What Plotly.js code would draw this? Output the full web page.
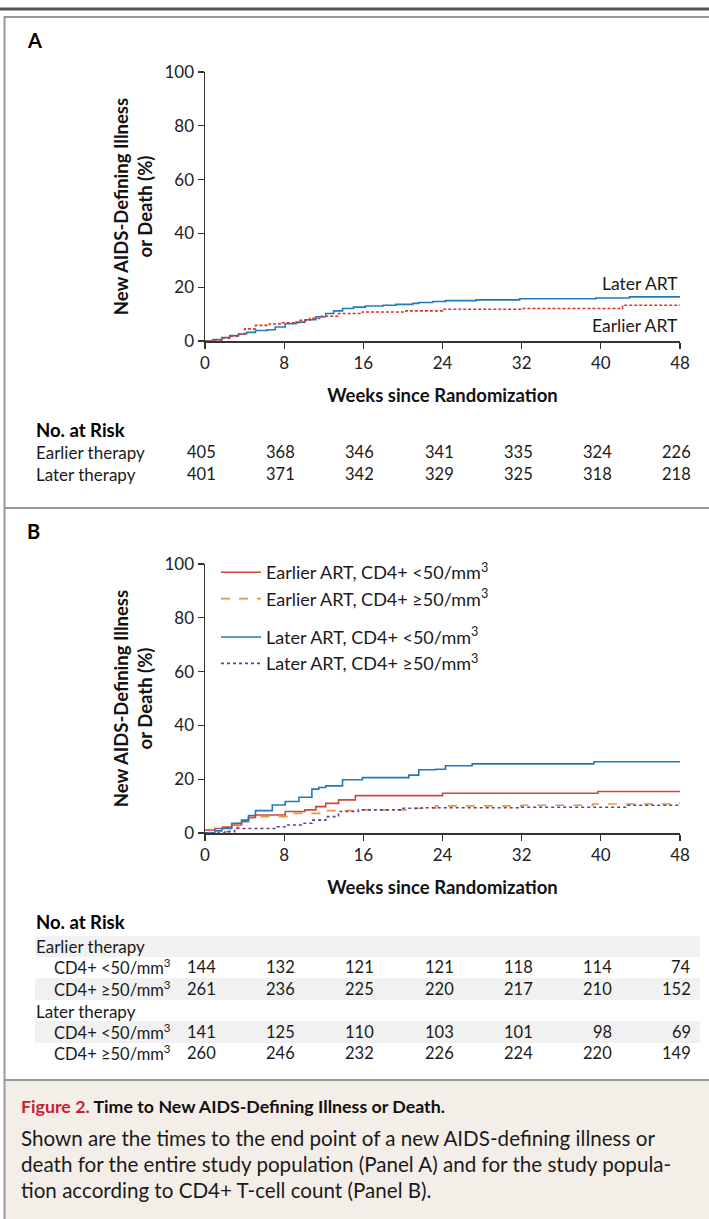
<!DOCTYPE html>
<html><head><meta charset="utf-8">
<script src="https://cdn.plot.ly/plotly-3.0.1.min.js"></script>
<style>html,body{margin:0;padding:0;background:#fff;}#chart{width:709px;height:1219px;}</style>
</head><body><div id="chart"></div>
<script>
// ---------- data ----------
const weekTicks = [0, 8, 16, 24, 32, 40, 48];

// Panel A
const aLaterWeeks = [0,0.8,1.7,2.5,3.4,4.2,5.1,6.3,7.1,8.1,9.2,10.1,11.2,12.2,13,13.9,15,16.2,18,19.3,21,21.6,23,24.3,27.4,31.8,39.5,42.9,48];
const aLaterPct   = [0,0.5,1.3,2,2.6,3.2,3.9,4.2,5.2,6.4,7,7.9,9,10.2,11.2,12.1,12.6,13,13.3,13.6,14,14.3,14.7,15,15.3,15.7,16,16.4,16.5];
const aEarlierWeeks = [0,0.8,1.7,2.6,3.4,4,5.1,6.5,7.8,9.5,10.6,11.8,13.5,15.9,20.3,24,32,42.2,48];
const aEarlierPct   = [0,0.4,1,1.8,2.6,4.5,5.8,6.3,6.8,7.7,8.4,9.2,10.2,10.8,11.2,11.8,12.1,13.3,13.3];

// Panel B
const bEarlyLowWeeks = [0,1,1.8,2.7,3.7,4.4,5.1,8.1,10.1,11.2,12.2,13.5,15.2,24,39.7,48];
const bEarlyLowPct   = [1.1,1.7,2.2,3,4.2,5.8,6.7,8,8.6,9.8,11,12.3,13.9,14.8,15.4,15.4];
const bEarlyHighWeeks = [0,2,2.7,3.4,4.4,5.1,8.4,11.8,15.9,21.3,23.3,32,39.2,48];
const bEarlyHighPct   = [0,0.5,2,3.6,5.5,6.1,7.3,8.3,8.6,9.2,10.1,10.3,10.8,11.4];
const bLateLowWeeks = [0,1,1.7,2.7,3.7,4.4,5.1,6.8,8.1,9.5,10.8,11.5,12.2,13.9,15.9,20.6,21.6,23.3,24.3,27,39.3,48];
const bLateLowPct   = [0,0.8,1.7,3.6,4.8,6.5,8.3,10.4,11.7,13.3,16.3,16.9,17.5,19.8,20.6,21.5,23.5,23.7,25,25.7,26.5,26.5];
const bLateHighWeeks = [0,2,3,7.3,8.1,9.8,10.8,12.2,13.5,15.5,19.9,21.9,32,42.6,48];
const bLateHighPct   = [0,0.5,1.7,2.3,3,3.6,4.8,6.1,8,8.6,9.2,9.4,9.6,10.3,10.3];

// Numbers at risk
const aRiskRows = ["Earlier therapy", "Later therapy"];
const aRiskEarlier = [405, 368, 346, 341, 335, 324, 226];
const aRiskLater   = [401, 371, 342, 329, 325, 318, 218];

const bGroupLabels = ["Earlier therapy", "Later therapy"];
const bRowLabels = ["CD4+ <50/mm<sup>3</sup>", "CD4+ ≥50/mm<sup>3</sup>"];
const bRiskEarlyLow  = [144, 132, 121, 121, 118, 114, 74];
const bRiskEarlyHigh = [261, 236, 225, 220, 217, 210, 152];
const bRiskLateLow   = [141, 125, 110, 103, 101, 98, 69];
const bRiskLateHigh  = [260, 246, 232, 226, 224, 220, 149];

const legendNames = ["Earlier ART, CD4+ <50/mm<sup>3</sup>", "Earlier ART, CD4+ ≥50/mm<sup>3</sup>",
                     "Later ART, CD4+ <50/mm<sup>3</sup>", "Later ART, CD4+ ≥50/mm<sup>3</sup>"];

// ---------- layout helpers ----------
const W = 709, H = 1219;
const FONT = "Lato, 'Open Sans', sans-serif";
const px = x => x / W;
const py = y => 1 - y / H;
const BLUE = "#1f7ac0", RED = "#d0463a", ORANGE = "#e8963c", PURPLE = "#5b3f9c";

function step(x, y, color, dash, name, xa, ya, group, show) {
  return {x: x, y: y, type: "scatter", mode: "lines", line: {shape: "hv", color: color, width: 1.6, dash: dash},
          name: name, xaxis: xa, yaxis: ya, legendgroup: group, showlegend: show, cliponaxis: false, hoverinfo: "skip"};
}

const traces = [
  step(aLaterWeeks, aLaterPct, BLUE, "solid", "Later ART", "x", "y", "a", false),
  step(aEarlierWeeks, aEarlierPct, "#d8352a", "3px,2px", "Earlier ART", "x", "y", "a", false),
  step(bEarlyLowWeeks, bEarlyLowPct, RED, "solid", legendNames[0], "x2", "y2", "e", true),
  step(bEarlyHighWeeks, bEarlyHighPct, ORANGE, "dash", legendNames[1], "x2", "y2", "e", true),
  step(bLateLowWeeks, bLateLowPct, BLUE, "solid", legendNames[2], "x2", "y2", "l", true),
  step(bLateHighWeeks, bLateHighPct, PURPLE, "dot", legendNames[3], "x2", "y2", "l", true),
];

function xAxis(domain, anchor) {
  return {domain: domain, anchor: anchor, range: [0, 48], tickvals: weekTicks, ticks: "outside", ticklen: 6,
          tickwidth: 1.3, tickcolor: "#333", showline: true, linecolor: "#333", linewidth: 1.5, showgrid: false,
          zeroline: false, fixedrange: true, tickfont: {family: FONT, size: 17, color: "#222"},
          title: {text: "<b>Weeks since Randomization</b>", font: {family: FONT, size: 18.5, color: "#111"}, standoff: 17}};
}
function yAxis(domain, anchor) {
  return {domain: domain, anchor: anchor, range: [0, 100], tickvals: [0, 20, 40, 60, 80, 100], ticks: "outside",
          ticklen: 6, tickwidth: 1.3, tickcolor: "#333", showline: true, linecolor: "#333", linewidth: 1.5,
          showgrid: false, zeroline: false, fixedrange: true, tickfont: {family: FONT, size: 17, color: "#222"},
          title: {text: "<b>New AIDS-Defining Illness<br>or Death (%)</b>", font: {family: FONT, size: 18.5, color: "#111"}, standoff: 7}};
}

const annotations = [];
function txt(text, x, y, opts) {
  annotations.push(Object.assign({text: text, x: px(x), y: py(y), xref: "paper", yref: "paper", showarrow: false,
    xanchor: "left", yanchor: "middle", font: {family: FONT, size: 17, color: "#1a1a1a"}}, opts || {}));
}
function riskRow(values, y, xaxisName) {
  values.forEach((v, i) => {
    annotations.push({text: String(v), x: weekTicks[i], xref: xaxisName, y: py(y), yref: "paper", xanchor: "right",
      xshift: 13, yanchor: "middle", showarrow: false, font: {family: FONT, size: 16.5, color: "#1a1a1a"}});
  });
}

// panel labels
txt("<b>A</b>", 25, 40, {font: {family: FONT, size: 20, color: "#000"}});
txt("<b>B</b>", 25, 531, {font: {family: FONT, size: 20, color: "#000"}});
// curve labels panel A
txt("Later ART", 680, 283, {xanchor: "right", font: {family: FONT, size: 17.5, color: "#1a1a1a"}});
txt("Earlier ART", 680, 325, {xanchor: "right", font: {family: FONT, size: 17.5, color: "#1a1a1a"}});
// table A
txt("<b>No. at Risk</b>", 34, 430, {font: {family: FONT, size: 18.5, color: "#000"}});
txt(aRiskRows[0], 34, 452);
txt(aRiskRows[1], 34, 474);
riskRow(aRiskEarlier, 452, "x");
riskRow(aRiskLater, 474, "x");
// table B
txt("<b>No. at Risk</b>", 34, 922, {font: {family: FONT, size: 18.5, color: "#000"}});
txt(bGroupLabels[0], 34, 946);
txt(bRowLabels[0], 52, 967, {font: {family: FONT, size: 16.5, color: "#1a1a1a"}});
txt(bRowLabels[1], 52, 989, {font: {family: FONT, size: 16.5, color: "#1a1a1a"}});
txt(bGroupLabels[1], 34, 1011);
txt(bRowLabels[0], 52, 1032, {font: {family: FONT, size: 16.5, color: "#1a1a1a"}});
txt(bRowLabels[1], 52, 1053, {font: {family: FONT, size: 16.5, color: "#1a1a1a"}});
riskRow(bRiskEarlyLow, 967, "x2");
riskRow(bRiskEarlyHigh, 989, "x2");
riskRow(bRiskLateLow, 1032, "x2");
riskRow(bRiskLateHigh, 1053, "x2");
// caption
txt("<b><span style='color:#c9202e'>Figure 2.</span> Time to New AIDS-Defining Illness or Death.</b>", 19, 1106, {font: {family: FONT, size: 17.8, color: "#111"}});
const CAP = {family: FONT, size: 20.6, color: "#1a1a1a"};
txt("Shown are the times to the end point of a new AIDS-defining illness or", 19, 1138, {font: CAP});
txt("death for the entire study population (Panel A) and for the study popula-", 19, 1164, {font: CAP});
txt("tion according to CD4+ T-cell count (Panel B).", 19, 1190, {font: CAP});

const shapes = [];
function line(x0, y0, x1, y1, color, width) {
  shapes.push({type: "line", xref: "paper", yref: "paper", x0: px(x0), y0: py(y0), x1: px(x1), y1: py(y1),
               line: {color: color, width: width}, layer: "below"});
}
function rect(x0, y0, x1, y1, fill) {
  shapes.push({type: "rect", xref: "paper", yref: "paper", x0: px(x0), y0: py(y0), x1: px(x1), y1: py(y1),
               fillcolor: fill, line: {width: 0}, layer: "below"});
}
rect(5, 1080, 709, 1219, "#f4eee9");
rect(35, 936, 700, 957, "#f1f1f1");
rect(35, 978, 700, 1000, "#f1f1f1");
rect(35, 1021, 700, 1043, "#f1f1f1");
line(0, 9, 709, 9, "#555", 3);
line(4, 17, 709, 17, "#999", 2);
line(4.5, 16, 4.5, 1219, "#999", 2);
line(4, 508, 709, 508, "#999", 2);
line(4, 1080, 709, 1080, "#999", 2);

const layout = {
  width: W, height: H, margin: {l: 0, r: 0, t: 0, b: 0}, paper_bgcolor: "#fff", plot_bgcolor: "rgba(0,0,0,0)",
  showlegend: true,
  xaxis: xAxis([px(205), px(680)], "y"),
  yaxis: yAxis([py(341), py(72)], "x"),
  xaxis2: xAxis([px(205), px(680)], "y2"),
  yaxis2: yAxis([py(833), py(564)], "x2"),
  legend: {x: px(216), y: py(554), xanchor: "left", yanchor: "top", bgcolor: "rgba(0,0,0,0)", traceorder: "grouped",
           tracegroupgap: 12, itemwidth: 40, font: {family: FONT, size: 18, color: "#1a1a1a"}},
  annotations: annotations, shapes: shapes
};

Plotly.newPlot("chart", traces, layout, {staticPlot: true, displayModeBar: false});
</script></body></html>
